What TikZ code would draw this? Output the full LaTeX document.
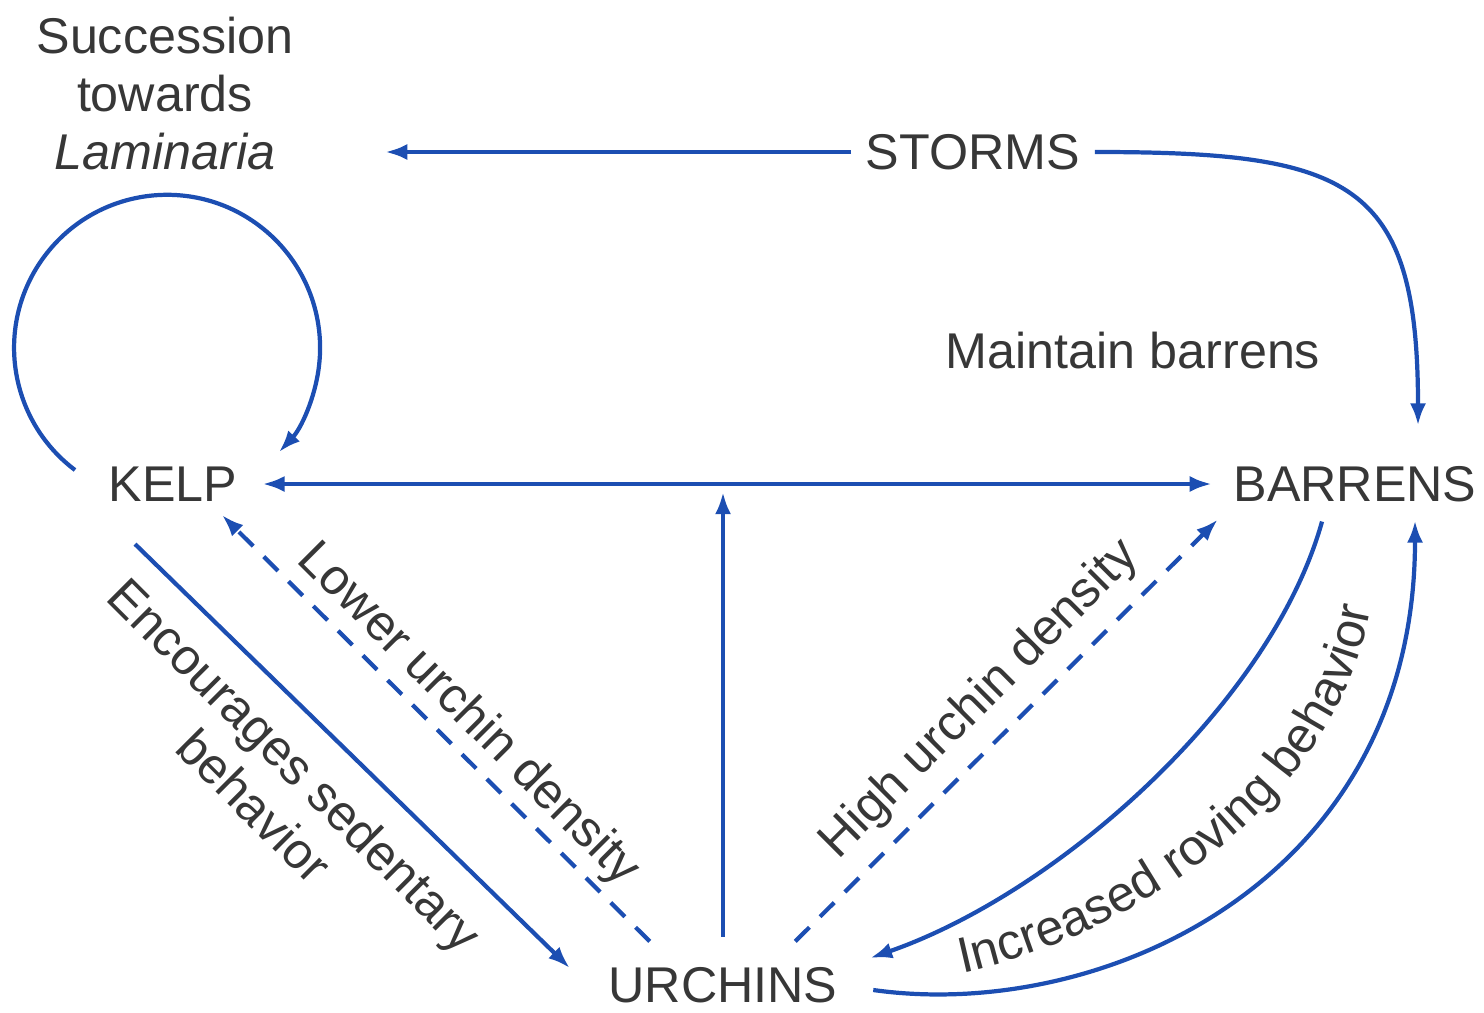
\documentclass[tikz,border=0pt]{standalone}
\usepackage{fontspec}
\setmainfont{Liberation Sans}
\usetikzlibrary{arrows.meta, calc, positioning, decorations.text}
\definecolor{kelpblue}{RGB}{28,78,178}
\definecolor{labelgray}{RGB}{55,55,55}

\begin{document}
\begin{tikzpicture}[
    font=\fontsize{14.3}{16.5}\selectfont,
    >={Latex[length=2.2mm, width=1.6mm]},
    every node/.style={text=labelgray, inner sep=4pt},
    link/.style={->, kelpblue, line width=1.2pt},
    dashlink/.style={link, dash pattern=on 2mm off 1.5mm}
  ]
  \useasboundingbox (0,0) rectangle (14.84,10.12);

  % States
  \node (kelp) at (1.73,5.28) {KELP};
  \node (barrens) at (13.55,5.28) {BARRENS};
  \node (urchins) at (7.23,0.27) {URCHINS};
  \node (storms) at (9.73,8.60) {STORMS};
  \node[align=center] (succ) at (1.65,9.18) {Succession\\towards\\\textit{Laminaria}};
  \node (maintain) at (11.33,6.61) {Maintain barrens};

  % Storms reset kelp and keep the barrens
  \draw[link, shorten >=0.77cm] (storms.west) -- (succ.east |- storms.west);
  \draw[link] (storms.east) .. controls +(2.55,0) and +(0,2.45) .. ($(barrens.north)+(0.63,0.26)$);

  % Kelp feeds back on itself
  \draw[link] ([shift={(-0.98,0.14)}]kelp.center) arc[start angle=233, end angle=-43, radius=1.53];

  % Phase shift between the two states
  \draw[<->, kelpblue, line width=1.2pt, shorten <=3pt, shorten >=2pt] (kelp) -- (barrens);
  \draw[link, shorten <=4.5pt, shorten >=2.3pt] (urchins) -- (urchins |- kelp);

  % Left: kelp side
  \draw[link] ([shift={(-0.38,-0.28)}]kelp.south) -- ([shift={(-0.24,0.17)}]urchins.west);
  \draw[dashlink] ([shift={(0.56,0.11)}]urchins.north west) -- ([shift={(0.49,0.01)}]kelp.south);
  \node[rotate=-45] at (4.68,2.97) {Lower urchin density};
  \node[rotate=-45, align=center] at (2.75,2.27) {Encourages sedentary\\behavior};

  % Right: barrens side
  \draw[dashlink] ([shift={(-0.57,0.11)}]urchins.north east) -- ([shift={(-0.01,-0.03)}]barrens.south west);
  \draw[link] ([shift={(-0.33,-0.05)}]barrens.south) .. controls +(-0.5,-1.8) and +(1.9,0.66) .. ([shift={(0.18,0.27)}]urchins.east);
  \draw[link] ([shift={(0.21,-0.05)}]urchins.east) .. controls +(2.27,-0.32) and +(0,-3.62) .. ([shift={(0.60,-0.04)}]barrens.south);
  \node[rotate=45] at (9.80,3.12) {High urchin density};
  \path[decorate, decoration={text along path, text align=left,
      text={|\fontsize{14.3}{16.5}\selectfont\color{labelgray}|Increased roving behavior}}]
    (9.62,0.39) .. controls (11.5,0.8) and (13.6,2.3) .. (13.75,4.37);
\end{tikzpicture}
\end{document}
